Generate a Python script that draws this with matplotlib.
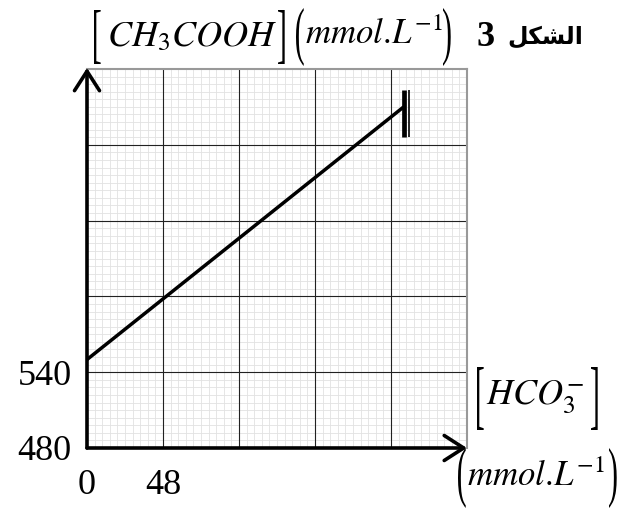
import numpy as np
import matplotlib
matplotlib.use("Agg")
import matplotlib.pyplot as plt
from matplotlib.textpath import TextPath
from matplotlib.patches import PathPatch
from matplotlib.font_manager import FontProperties
from matplotlib.transforms import Affine2D

# data
x_vals = [0, 200]
y_vals = [550, 750]

x_ticks = [0, 48, 96, 144, 192, 240]
x_tick_labels = ["0", "48", "", "", "", ""]
y_ticks = [480, 540, 600, 660, 720, 780]
y_tick_labels = ["480", "540", "", "", "", ""]

plt.rcParams["mathtext.fontset"] = "stix"
SERIF = "Liberation Serif"
W, H = 627, 509

fig = plt.figure(figsize=(W / 100, H / 100), dpi=100)
ax = fig.add_axes([87 / W, 1 - 448 / H, 380 / W, 379 / H])
ax.set_xlim(0, 240)
ax.set_ylim(480, 780)

# graph paper: 10 small squares per big one
x_minor = [v for v in np.linspace(0, 240, 51) if not np.isclose(v % 48, 0)]
y_minor = [v for v in np.linspace(480, 780, 51) if not np.isclose((v - 480) % 60, 0)]
ax.set_xticks(x_ticks)
ax.set_xticklabels(x_tick_labels, fontfamily=SERIF, fontsize=26)
ax.set_yticks(y_ticks)
ax.set_yticklabels(y_tick_labels, fontfamily=SERIF, fontsize=26)
ax.set_xticks(x_minor, minor=True)
ax.set_yticks(y_minor, minor=True)
ax.grid(which="minor", color="#e2e2e2", lw=0.6)
ax.tick_params(which="both", length=0)
ax.tick_params(axis="x", pad=15)
ax.tick_params(axis="y", pad=11)
ax.set_axisbelow(True)
# big squares drawn above the small ones
for v in x_ticks[1:-1]:
    ax.axvline(v, color="#222222", lw=0.8, zorder=1)
for v in y_ticks[1:-1]:
    ax.axhline(v, color="#222222", lw=0.8, zorder=1)

for s in ["left", "bottom"]:
    ax.spines[s].set_visible(False)
for s in ["top", "right"]:
    ax.spines[s].set_color("#999999")
    ax.spines[s].set_linewidth(1.5)

# axes with arrows
arrow = dict(arrowstyle="->,head_length=0.7,head_width=0.45", lw=2.6,
             color="black", mutation_scale=20, shrinkA=0, shrinkB=0)
ax.annotate("", xy=(0, 1.003), xytext=(0, 0), xycoords="axes fraction",
            arrowprops=arrow, annotation_clip=False)
ax.annotate("", xy=(1.0, 0), xytext=(0, 0), xycoords="axes fraction",
            arrowprops=arrow, annotation_clip=False)

# the line, with the double bar at its end
ax.plot(x_vals, y_vals, color="black", lw=2.5, solid_capstyle="butt", zorder=5)
xe, ye = x_vals[-1], y_vals[-1]
ax.plot([xe + 0.3, xe + 0.3], [ye - 24, ye + 13], color="black", lw=3.4,
        solid_capstyle="butt", zorder=5)
ax.plot([xe + 3.4, xe + 3.4], [ye - 24, ye + 13], color="black", lw=1.2,
        solid_capstyle="butt", zorder=5)


def tall(ch, x0, y_top, y_bot, size=30):
    """stretched bracket glyph, placed in pixel coords (y from top)"""
    tp = TextPath((0, 0), ch, size=size, prop=FontProperties(family=SERIF))
    ext = tp.get_extents()
    sy = (y_bot - y_top) / ext.height
    tr = (Affine2D().translate(-ext.x0, -ext.y0).scale(1.0, sy)
          .translate(x0, H - y_bot))
    fig.add_artist(PathPatch(tp, transform=tr, facecolor="black", lw=0))


def label(s, xc, yc, size=26, **kw):
    fig.text(xc / W, 1 - yc / H, s, ha="center", va="center", fontsize=size, **kw)


unit = r"$mmol.\!L^{-1}$"

# y title
tall("[", 94, 10, 64)
label(r"$CH_3COOH$", 192, 36)
tall("]", 278, 10, 64)
tall("(", 296, 8, 66)
label(unit, 374, 34, size=25)
tall(")", 443, 8, 66)

# figure number, arabic in display order
arabic = "\uFEDE\uFEDC\uFEB8\uFEDF\uFE8D"
fig.text(476 / W, 1 - 38 / H, "3", fontfamily=SERIF, fontweight="bold",
         fontsize=26, ha="left", va="center")
fig.text(507 / W, 1 - 37 / H, arabic, fontfamily="DejaVu Sans",
         fontweight="bold", fontsize=17, ha="left", va="center")

# x title
tall("[", 477, 367, 430)
label(r"$HCO_3^{-}$", 535, 397)
tall("]", 591, 367, 430)
tall("(", 458, 448, 508)
label(unit, 536, 476, size=25)
tall(")", 609, 448, 508)

fig.savefig("out.png", dpi=100)
